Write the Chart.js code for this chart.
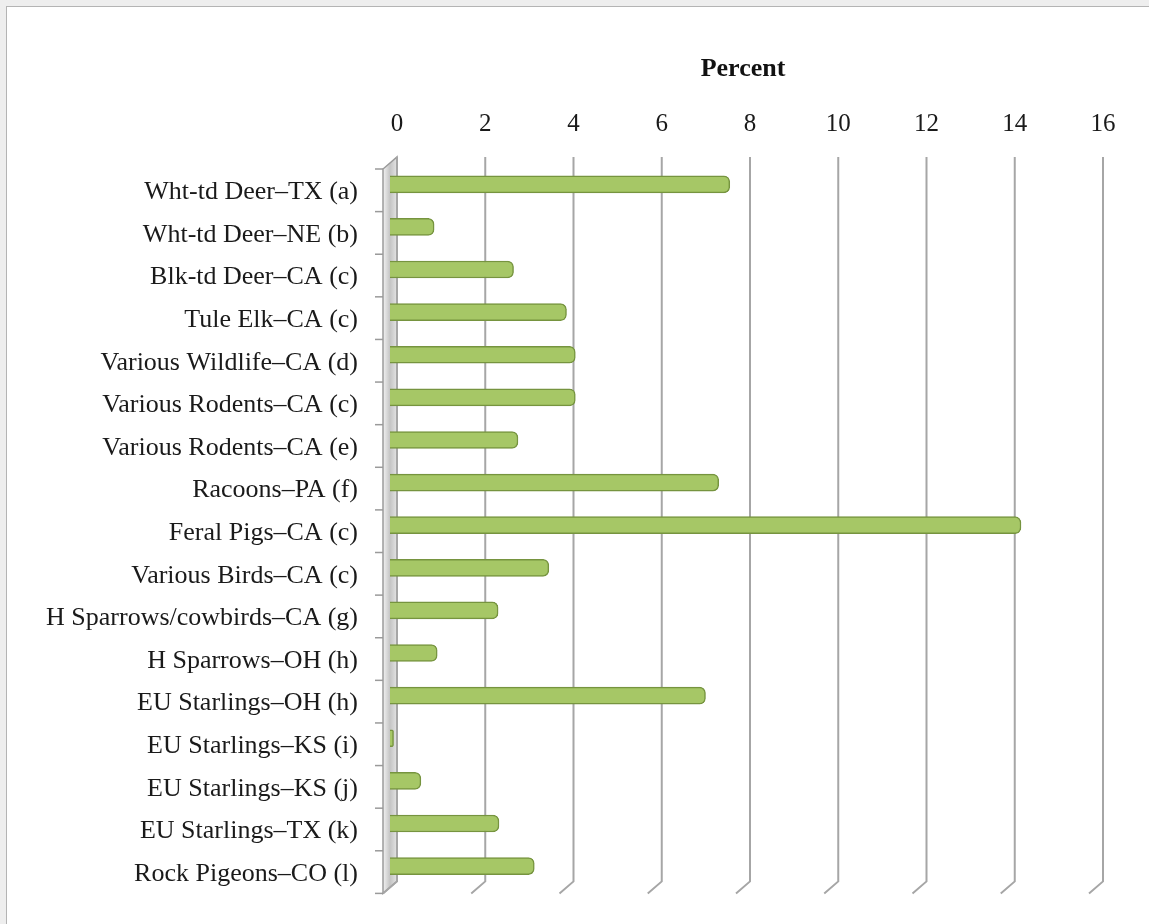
<!DOCTYPE html>
<html>
<head>
<meta charset="utf-8">
<script src="https://cdn.jsdelivr.net/npm/chart.js@4/dist/chart.umd.min.js"></script>
<style>
  html, body { margin: 0; padding: 0; background: #eeeeee; overflow: hidden; }
  #frame {
    position: absolute; left: 6px; top: 6px; width: 1160px; height: 940px;
    background: #ffffff; border: 1px solid #b4b4b4;
  }
  #wrap { position: absolute; left: 0; top: 0; width: 1149px; height: 924px; overflow: hidden; }
</style>
</head>
<body>
<div id="frame"></div>
<div id="wrap"><canvas id="chart-percent"></canvas></div>
<script>
"use strict";

/* ==========================================================
   DATA
   ========================================================== */
const categories = [
  "Wht-td Deer\u2013TX (a)",
  "Wht-td Deer\u2013NE (b)",
  "Blk-td Deer\u2013CA (c)",
  "Tule Elk\u2013CA (c)",
  "Various Wildlife\u2013CA (d)",
  "Various Rodents\u2013CA (c)",
  "Various Rodents\u2013CA (e)",
  "Racoons\u2013PA (f)",
  "Feral Pigs\u2013CA (c)",
  "Various Birds\u2013CA (c)",
  "H Sparrows/cowbirds\u2013CA (g)",
  "H Sparrows\u2013OH (h)",
  "EU Starlings\u2013OH (h)",
  "EU Starlings\u2013KS (i)",
  "EU Starlings\u2013KS (j)",
  "EU Starlings\u2013TX (k)",
  "Rock Pigeons\u2013CO (l)",
];
const percentValues = [7.7, 1.0, 2.8, 4.0, 4.2, 4.2, 2.9, 7.45, 14.3, 3.6, 2.45, 1.07, 7.15, 0.08, 0.7, 2.47, 3.27];
const tickValues = [0, 2, 4, 6, 8, 10, 12, 14, 16];

/* ==========================================================
   3D look: back wall grid + left wall + floor edges
   ========================================================== */
const DX = 7, DY = 6; // offset between middle (bars) plane and back/front planes
const SERIF = "'Liberation Serif', 'Times New Roman', serif";

const wallPlugin = {
  id: "wall3d",
  beforeDatasetsDraw(chart) {
    const { ctx, chartArea: a, scales } = chart;
    const x = scales.x, y = scales.y;
    ctx.save();

    // left wall
    const x0 = x.getPixelForValue(0);
    const g = ctx.createLinearGradient(x0 - DX, 0, x0 + DX, 0);
    g.addColorStop(0, "#f2f2f2");
    g.addColorStop(0.5, "#c4c4c4");
    g.addColorStop(1, "#e4e4e4");
    ctx.beginPath();
    ctx.moveTo(x0 + DX, a.top - DY);
    ctx.lineTo(x0 + DX, a.bottom - DY);
    ctx.lineTo(x0 - DX, a.bottom + DY);
    ctx.lineTo(x0 - DX, a.top + DY);
    ctx.closePath();
    ctx.fillStyle = g;
    ctx.fill();
    ctx.strokeStyle = "#9a9a9a";
    ctx.lineWidth = 1.5;
    ctx.stroke();

    // grid lines on back wall, with floor slant
    ctx.strokeStyle = "#a6a6a6";
    ctx.lineWidth = 2;
    tickValues.forEach(v => {
      const px = x.getPixelForValue(v);
      ctx.beginPath();
      ctx.moveTo(px + DX, a.top - DY);
      ctx.lineTo(px + DX, a.bottom - DY);
      ctx.lineTo(px - DX, a.bottom + DY);
      ctx.stroke();
    });

    // category tick marks on front edge
    ctx.strokeStyle = "#9a9a9a";
    ctx.lineWidth = 1.5;
    const n = categories.length;
    const step = y.getPixelForValue(1) - y.getPixelForValue(0);
    for (let i = 0; i <= n; i++) {
      const py = y.getPixelForValue(i) - step / 2 + DY;
      ctx.beginPath();
      ctx.moveTo(x0 - DX - 8, py);
      ctx.lineTo(x0 - DX, py);
      ctx.stroke();
    }
    ctx.restore();
  }
};

/* ==========================================================
   CHART
   ========================================================== */
function renderPercentChart() {
  const el = document.getElementById("chart-percent");

  new Chart(el, {
    type: "bar",
    data: {
      labels: categories,
      datasets: [{
        label: "Percent",
        data: percentValues,
        backgroundColor: "#a6c766",
        borderColor: "#76943f",
        borderWidth: 1.5,
        borderRadius: 6,
        borderSkipped: "start",
        barThickness: 17,
      }],
    },
    plugins: [wallPlugin],
    options: {
      indexAxis: "y",
      responsive: false,
      animation: false,
      devicePixelRatio: 1,
      layout: { padding: { left: 0, right: 53, top: 0, bottom: 25 } },
      plugins: {
        legend: { display: false },
        tooltip: { enabled: false },
      },
      scales: {
        x: {
          position: "top",
          min: 0,
          max: 16,
          afterBuildTicks: (s) => { s.ticks = tickValues.map(v => ({ value: v })); },
          afterFit: (s) => { s.height = 163; },
          grid: { display: false, drawTicks: false },
          border: { display: false },
          ticks: {
            color: "#1a1a1a",
            font: { family: SERIF, size: 25 },
            padding: 24,
            labelOffset: DX,
            maxRotation: 0,
          },
          title: {
            display: true,
            text: "Percent",
            color: "#111111",
            font: { family: SERIF, size: 26, weight: "bold" },
            padding: { top: 54, bottom: 0 },
          },
        },
        y: {
          afterFit: (s) => { s.width = 390; },
          grid: { display: false, drawTicks: false },
          border: { display: false },
          ticks: {
            color: "#1a1a1a",
            font: { family: SERIF, size: 26 },
            padding: 32,
            labelOffset: DY + 2,
            autoSkip: false,
          },
        },
      },
    },
  });
}

const cv = document.getElementById("chart-percent");
cv.width = 1149;
cv.height = 935;
renderPercentChart();
</script>
</body>
</html>
